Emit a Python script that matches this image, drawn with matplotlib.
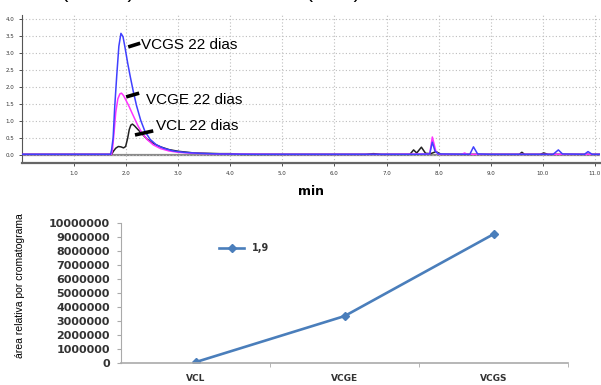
import matplotlib.pyplot as plt
import numpy as np

# chromatogram traces (time in min, signal)
vcgs_t = [0.0, 1.70, 1.72, 1.75, 1.78, 1.82, 1.86, 1.90, 1.94, 1.98, 2.03, 2.08, 2.14, 2.20, 2.28, 2.36,
          2.46, 2.58, 2.72, 2.90, 3.10, 3.40, 3.80, 4.50, 5.50, 6.50, 7.50, 7.83, 7.88, 7.93, 8.00,
          8.60, 8.67, 8.75, 9.00, 10.20, 10.30, 10.38, 10.80, 10.87, 10.95, 11.10]
vcgs_i = [0.02, 0.02, 0.15, 0.50, 1.40, 2.35, 3.20, 3.58, 3.48, 3.15, 2.70, 2.30, 1.85, 1.45, 1.02, 0.70,
          0.46, 0.30, 0.20, 0.12, 0.08, 0.05, 0.03, 0.02, 0.02, 0.02, 0.02, 0.03, 0.38, 0.12, 0.03,
          0.02, 0.24, 0.03, 0.02, 0.02, 0.15, 0.03, 0.02, 0.10, 0.02, 0.02]

vcge_t = [0.0, 1.72, 1.74, 1.77, 1.80, 1.84, 1.88, 1.91, 1.95, 2.00, 2.05, 2.10, 2.16, 2.22, 2.30, 2.40,
          2.52, 2.66, 2.82, 3.00, 3.30, 3.80, 5.00, 7.00, 7.83, 7.88, 7.95, 8.00, 8.45, 8.50, 8.55, 11.10]
vcge_i = [0.02, 0.02, 0.20, 0.70, 1.25, 1.65, 1.80, 1.82, 1.75, 1.60, 1.45, 1.28, 1.08, 0.88, 0.66, 0.46,
          0.30, 0.19, 0.12, 0.08, 0.05, 0.03, 0.02, 0.02, 0.03, 0.53, 0.10, 0.02, 0.02, 0.06, 0.02, 0.02]

vcl_t = [0.0, 1.72, 1.76, 1.80, 1.85, 1.90, 1.95, 1.99, 2.03, 2.06, 2.09, 2.12, 2.16, 2.22, 2.30, 2.40,
         2.52, 2.66, 2.82, 3.00, 3.30, 3.80, 4.00, 4.20, 6.60, 6.75, 6.90, 7.45, 7.52, 7.58, 7.67, 7.75,
         7.85, 7.95, 8.05, 9.55, 9.60, 9.65, 9.95, 10.02, 10.10, 11.10]
vcl_i = [0.02, 0.02, 0.12, 0.20, 0.25, 0.24, 0.21, 0.25, 0.50, 0.75, 0.88, 0.91, 0.86, 0.76, 0.63, 0.47,
         0.34, 0.24, 0.16, 0.11, 0.06, 0.04, 0.04, 0.02, 0.02, 0.04, 0.02, 0.02, 0.15, 0.06, 0.23, 0.05,
         0.04, 0.10, 0.02, 0.02, 0.08, 0.02, 0.02, 0.06, 0.02, 0.02]

peak_labels = ["VCGS 22 dias", "VCGE 22 dias", "VCL 22 dias"]

# summary chart
amostras = ["VCL", "VCGE", "VCGS"]
areas = [60000, 3350000, 9200000]
serie = "1,9"

fig = plt.figure(figsize=(6.01, 3.85), dpi=100)

# clipped caption line at the very top (only its lower edge shows in the original)
fig.text(0.025, 1.02, "tado (VCGS) e tratado com luz (VCL) e VCGE", fontsize=15,
         family=["Liberation Sans", "DejaVu Sans"], va="center", ha="left")

# --- chromatogram ---
ax1 = fig.add_axes([22 / 601, 1 - 163 / 385, 578 / 601, 148 / 385])
ax1.set_xlim(0, 11.1)
ax1.set_ylim(-0.235, 4.12)
ax1.set_xticks(np.arange(1, 12, 1.0))
ax1.set_yticks(np.arange(0, 4.01, 0.5))
ax1.xaxis.set_major_formatter(plt.FormatStrFormatter("%.1f"))
ax1.yaxis.set_major_formatter(plt.FormatStrFormatter("%.1f"))
ax1.tick_params(labelsize=4, length=2, width=0.6, colors="#333333")
ax1.grid(True, linestyle=(0, (1, 2)), color="#bdbdbd", linewidth=0.8)
ax1.axhline(0, color="#8a8a8a", lw=1.6, zorder=1)
for s in ["top", "right"]:
    ax1.spines[s].set_visible(False)
ax1.spines["left"].set_color("#555555")
ax1.spines["bottom"].set_color("#666666")
ax1.spines["bottom"].set_linewidth(1.6)

ax1.plot(vcl_t, vcl_i, color="#222222", lw=1.1, zorder=3)
ax1.plot(vcge_t, vcge_i, color="#ff33ff", lw=1.1, zorder=3)
ax1.plot(vcgs_t, vcgs_i, color="#4040ff", lw=1.1, zorder=4)

# labels with thick pointer strokes
marks = [((2.04, 2.27), (3.18, 3.29), (2.29, 3.24)),
         ((2.00, 2.25), (1.71, 1.82), (2.38, 1.62)),
         ((2.17, 2.52), (0.59, 0.71), (2.58, 0.86))]
for lab, (xs, ys, (tx, ty)) in zip(peak_labels, marks):
    ax1.plot(xs, ys, color="black", lw=2.6, solid_capstyle="butt", zorder=5)
    ax1.text(tx, ty, lab, fontsize=11, family=["Liberation Sans", "DejaVu Sans"],
             va="center", ha="left", zorder=6)

ax1.set_xlabel("min", fontsize=9, fontweight="bold", labelpad=7)

# --- area per sample ---
ax2 = fig.add_axes([121 / 601, 1 - 363 / 385, 447 / 601, 140 / 385])
x = np.arange(len(amostras))
ax2.plot(x, areas, color="#4a7ebb", lw=1.9, marker="D", markersize=4.5, label=serie)
ax2.set_xlim(-0.5, len(amostras) - 0.5)
ax2.set_ylim(0, 10000000)
ax2.set_yticks(np.arange(0, 10000001, 1000000))
ax2.set_yticklabels([str(v) for v in range(0, 10000001, 1000000)])
ax2.set_xticks(x)
ax2.set_xticklabels(amostras)
ax2.set_xticks(np.arange(0.5, len(amostras), 1.0), minor=True)
ax2.tick_params(axis="x", which="major", length=0, pad=8, labelsize=6.5, labelcolor="#333333")
ax2.tick_params(axis="x", which="minor", length=3, color="#aaaaaa", direction="out")
ax2.tick_params(axis="y", length=3, color="#aaaaaa", labelsize=8, labelcolor="#333333", pad=5)
for lbl in ax2.get_xticklabels() + ax2.get_yticklabels():
    lbl.set_fontweight("bold")
for s in ["top", "right"]:
    ax2.spines[s].set_visible(False)
ax2.spines["left"].set_color("#aaaaaa")
ax2.spines["bottom"].set_color("#aaaaaa")
ax2.spines["bottom"].set_linewidth(1.2)

leg = ax2.legend(loc="center left", bbox_to_anchor=(0.2, 0.82), frameon=False,
                 handlelength=2.6, prop={"size": 7, "weight": "bold"})
for t in leg.get_texts():
    t.set_color("#333333")

ax2.set_ylabel("área relativa por cromatograma", fontsize=7.5, fontstretch="condensed",
               family=["Liberation Sans", "DejaVu Sans"])
ax2.yaxis.set_label_coords(-0.215, 0.55)
ax2.set_xlabel("min", fontsize=9, fontweight="bold", labelpad=2)
ax2.xaxis.set_label_coords(0.34, -0.2)

fig.savefig("out.png", dpi=100)
